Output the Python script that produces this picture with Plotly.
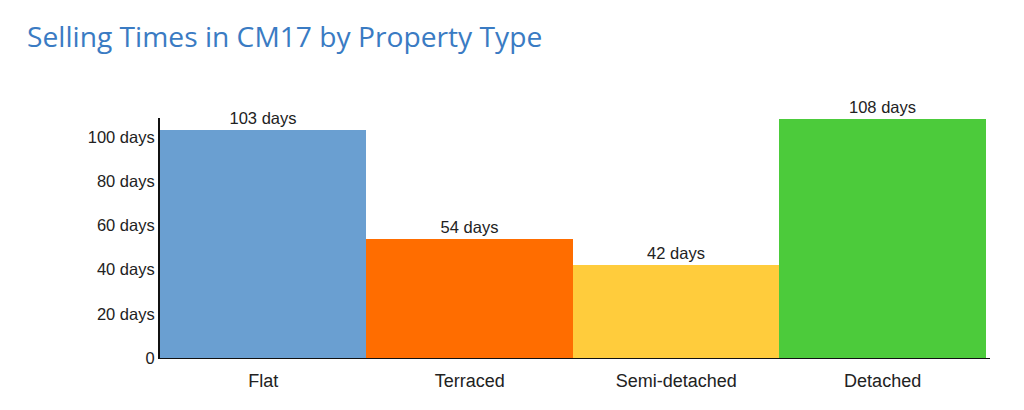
import plotly.graph_objects as go

# values as printed on the chart
property_types = ["Flat", "Terraced", "Semi-detached", "Detached"]
selling_days = [103, 54, 42, 108]
bar_colors = ["#6a9fd1", "#ff6d00", "#ffcc3c", "#4ccb3b"]
tick_values = [0, 20, 40, 60, 80, 100]
tick_labels = ["0", "20 days", "40 days", "60 days", "80 days", "100 days"]

fig = go.Figure(
    go.Bar(
        x=property_types,
        y=selling_days,
        marker=dict(color=bar_colors, line=dict(width=0)),
        text=[f"{d} days" for d in selling_days],
        textposition="outside",
        cliponaxis=False,
        textfont=dict(family="Liberation Sans, Arial", size=16.5, color="#222"),
        hoverinfo="skip",
    )
)

# page body adds 8px, margins below are set with that in mind
fig.update_layout(
    width=1024,
    height=410,
    margin=dict(l=152, r=42, t=110, b=60),
    paper_bgcolor="white",
    plot_bgcolor="white",
    bargap=0,
    showlegend=False,
    title=dict(
        text="Selling Times in CM17 by Property Type",
        x=0.0186,
        xanchor="left",
        y=0.929,
        yanchor="middle",
        font=dict(family="Open Sans", size=28.2, color="#3a7bc3"),
    ),
)

fig.update_xaxes(
    range=[-0.5, 3.52],
    showline=True,
    linecolor="#111",
    linewidth=1,
    layer="below traces",
    showgrid=False,
    ticks="",
    ticklabelstandoff=6,
    tickfont=dict(family="Liberation Sans, Arial", size=18, color="#222"),
)
fig.update_yaxes(
    range=[0, 108.6],
    tickvals=tick_values,
    ticktext=tick_labels,
    showline=True,
    linecolor="#111",
    linewidth=2,
    showgrid=False,
    zeroline=False,
    ticks="",
    tickfont=dict(family="Liberation Sans, Arial", size=16.5, color="#222"),
)

fig.write_html("out.html")
